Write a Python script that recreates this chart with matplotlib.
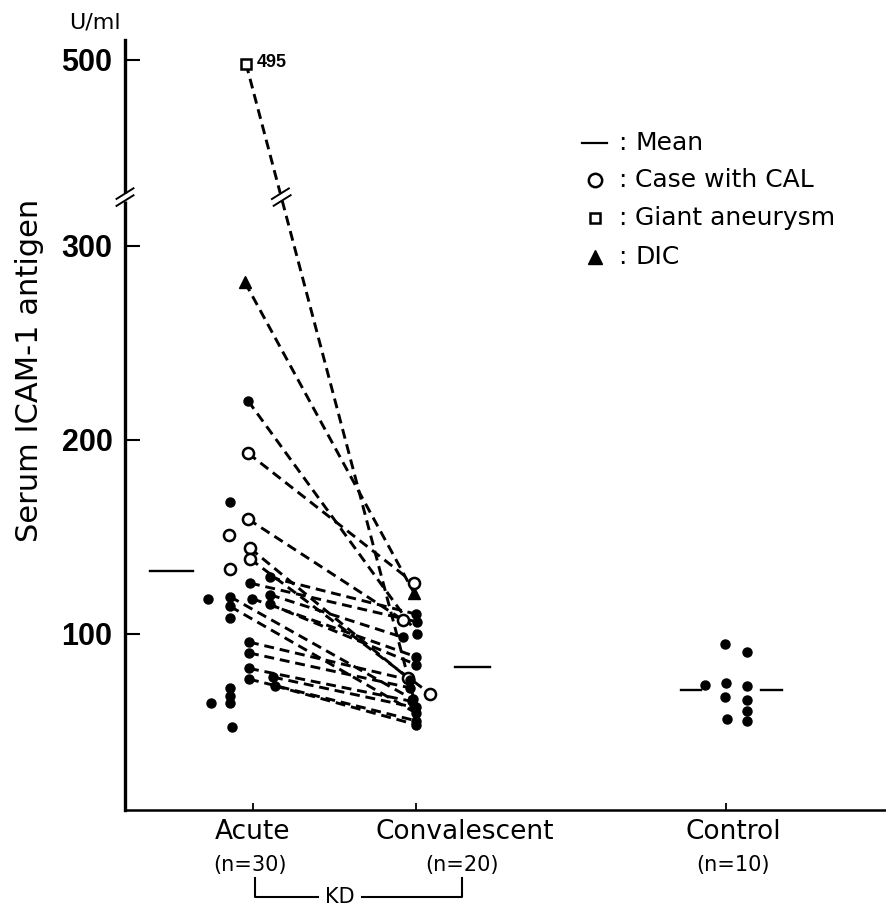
import numpy as np
import matplotlib
matplotlib.use('Agg')
import matplotlib.pyplot as plt
from matplotlib.lines import Line2D
from matplotlib.transforms import IdentityTransform

# serum ICAM-1 (U/ml)
acute_pair = [495, 281, 220, 193, 159, 144, 138.5, 129, 126, 120, 118, 115, 119, 114, 95.6, 90, 82, 77.5, 76.5, 73]
conv_pair = [62, 121, 100, 126, 107, 77, 69, 110, 106, 98, 88, 84, 66, 59, 76, 72, 65, 62, 55, 53]
acute_kind = ['giant', 'dic', 'plain', 'cal', 'cal', 'cal', 'cal', 'plain', 'plain', 'plain',
              'plain', 'plain', 'plain', 'plain', 'plain', 'plain', 'plain', 'plain', 'plain', 'plain']
conv_kind = ['plain', 'dic', 'plain', 'cal', 'cal', 'cal', 'cal', 'plain', 'plain', 'plain',
             'plain', 'plain', 'plain', 'plain', 'plain', 'plain', 'plain', 'plain', 'plain', 'plain']
acute_only = [168, 151, 133, 108, 72, 68, 64, 52, 118, 64]
acute_only_kind = ['plain', 'cal', 'cal', 'plain', 'plain', 'plain', 'plain', 'plain', 'plain', 'plain']
control_vals = [94.6, 90.5, 73.4, 74.4, 72.9, 67.2, 65.6, 60.0, 55.8, 54.8]

groups = ['Acute', 'Convalescent', 'Control']
group_n = [30, 20, 10]
yticks = [100, 200, 300, 500]
legend_items = ['Mean', 'Case with CAL', 'Giant aneurysm', 'DIC']

# horizontal scatter of the dots, in pixels
acute_pair_dx = [-7, -8, -5, -5, -5, -3, -3, 17, -3, 17, -1, 17, -23, -23, -4, -4, -4, 20, -4, 22]
conv_pair_dx = [0, -2, 1, -2, -13, -8, 14, 0, 1, -13, 0, 0, -3, 0, -6, -6, -4, -2, 0, 0]
acute_only_dx = [-23, -24, -23, -23, -23, -23, -23, -21, -45, -42]
control_dx = [-1, 21, -21, 0, 21, -1, 21, 21, 1, 21]

W, H = 886, 915
PX = 163.0          # pixels per x unit
xpos = [1.0, 2.0, 3.9]
BRK = 325.0         # axis break
K = 0.405           # compression above the break

def fwd(v):
    v = np.asarray(v, dtype=float)
    return np.where(v <= BRK, v, BRK + (v - BRK) * K)

def inv(t):
    t = np.asarray(t, dtype=float)
    return np.where(t <= BRK, t, BRK + (t - BRK) / K)

def fx(px):
    return px / W

def fy(py):
    return 1 - py / H

styles = {
    'plain': dict(marker='o', ms=6.5, mfc='black', mec='black', mew=1),
    'cal': dict(marker='o', ms=8, mfc='white', mec='black', mew=1.8),
    'giant': dict(marker='s', ms=6.5, mfc='white', mec='black', mew=1.8),
    'dic': dict(marker='^', ms=8, mfc='black', mec='black', mew=1),
}

NUMFONT = ['Liberation Sans', 'DejaVu Sans']

fig = plt.figure(figsize=(W / 100, H / 100), dpi=100)
ax = fig.add_axes([fx(125), fy(810), (W - 125) / W, 770 / H])
ax.set_yscale('function', functions=(fwd, inv))
ax.set_ylim(9, 525)
ax.set_xlim(1 - 128 / PX, 1 + (W - 253) / PX)

# paired lines acute -> convalescent
for a, c, ka, kc, da, dc in zip(acute_pair, conv_pair, acute_kind, conv_kind, acute_pair_dx, conv_pair_dx):
    x1 = xpos[0] + da / PX
    x2 = xpos[1] + dc / PX
    ax.plot([x1, x2], [a, c], color='black', lw=2.1, ls=(0, (3.4, 2.0)), zorder=2)
    ax.plot(x1, a, ls='none', zorder=3, **styles[ka])
    ax.plot(x2, c, ls='none', zorder=3, **styles[kc])

for v, k, d in zip(acute_only, acute_only_kind, acute_only_dx):
    ax.plot(xpos[0] + d / PX, v, ls='none', zorder=3, **styles[k])

for v, d in zip(control_vals, control_dx):
    ax.plot(xpos[2] + d / PX, v, ls='none', zorder=3, **styles['plain'])

# means
m_acute = np.mean(acute_pair + acute_only)
m_conv = np.mean(conv_pair)
m_ctrl = np.mean(control_vals)
ax.plot([xpos[0] - 103 / PX, xpos[0] - 60 / PX], [m_acute] * 2, color='black', lw=1.7)
ax.plot([xpos[1] + 39 / PX, xpos[1] + 74 / PX], [m_conv] * 2, color='black', lw=1.7)
ax.plot([xpos[2] - 45 / PX, xpos[2] - 25 / PX], [m_ctrl] * 2, color='black', lw=1.7)
ax.plot([xpos[2] + 35 / PX, xpos[2] + 56 / PX], [m_ctrl] * 2, color='black', lw=1.7)

ax.annotate('495', xy=(xpos[0] + acute_pair_dx[0] / PX, acute_pair[0]), xytext=(8, 1),
            textcoords='offset points', va='center', ha='left', fontsize=13,
            fontweight='bold', family=NUMFONT)

# axes styling
for s in ['top', 'right']:
    ax.spines[s].set_visible(False)
ax.spines['left'].set_linewidth(2.4)
ax.spines['bottom'].set_linewidth(1.8)
ax.set_yticks(yticks)
ax.set_yticklabels([str(t) for t in yticks])
ax.yaxis.set_minor_locator(matplotlib.ticker.NullLocator())
ax.tick_params(axis='y', direction='in', length=11, width=1.5, labelsize=22, pad=9)
for lab in ax.get_yticklabels():
    lab.set_fontweight('bold')
    lab.set_family(NUMFONT)
ax.set_xticks(xpos)
ax.set_xticklabels([])
ax.tick_params(axis='x', direction='in', length=5, width=1.3)

# break marks
def break_mark(px, py, d, gap_w):
    d = np.asarray(d, float) / np.hypot(*d)
    u = np.array([np.cos(np.radians(32)), np.sin(np.radians(32))])
    g = np.array([px, py])
    p0, p1 = g - 4 * d, g + 4 * d
    fig.add_artist(Line2D([p0[0], p1[0]], [p0[1], p1[1]], color='white', lw=gap_w,
                          transform=IdentityTransform(), zorder=6, solid_capstyle='butt'))
    for c in (g - 3.5 * d, g + 3.5 * d):
        a, b = c - 10 * u, c + 10 * u
        fig.add_artist(Line2D([a[0], b[0]], [a[1], b[1]], color='black', lw=1.4,
                              transform=IdentityTransform(), zorder=7))

bx, by = ax.transData.transform((ax.get_xlim()[0], BRK))
break_mark(bx, by, (0, 1), 5)

x1 = xpos[0] + acute_pair_dx[0] / PX
x2 = xpos[1] + conv_pair_dx[0] / PX
p1 = ax.transData.transform((x1, acute_pair[0]))
p2 = ax.transData.transform((x2, conv_pair[0]))
t = (p1[1] - by) / (p1[1] - p2[1])
cx = p1[0] + t * (p2[0] - p1[0])
break_mark(cx, by, (p2[0] - p1[0], p2[1] - p1[1]), 5)

# text around the axes
fig.text(fx(95), fy(22), 'U/ml', ha='center', va='center', fontsize=16)
fig.text(fx(30), fy(370), 'Serum ICAM-1 antigen', rotation=90, ha='center', va='center', fontsize=22)

lab_x = [253, 465, 733]
n_x = [250, 462, 733]
for g, n, lx, nx in zip(groups, group_n, lab_x, n_x):
    fig.text(fx(lx), fy(832), g, ha='center', va='center', fontsize=19)
    fig.text(fx(nx), fy(865), '(n=%d)' % n, ha='center', va='center', fontsize=15)

# KD bracket
kd = dict(color='black', lw=1.5, transform=fig.transFigure)
fig.add_artist(Line2D([fx(255), fx(255), fx(318)], [fy(878), fy(897), fy(897)], **kd))
fig.add_artist(Line2D([fx(362), fx(462), fx(462)], [fy(897), fy(897), fy(878)], **kd))
fig.text(fx(340), fy(897), 'KD', ha='center', va='center', fontsize=15)

# legend
leg_y = [143, 180, 218, 257]
leg_mk = [None, 'cal', 'giant', 'dic']
for txt, ly, mk in zip(legend_items, leg_y, leg_mk):
    if mk is None:
        fig.add_artist(Line2D([fx(582), fx(607)], [fy(ly), fy(ly)], color='black', lw=1.6,
                              transform=fig.transFigure))
    else:
        st = dict(styles[mk])
        st['ms'] = st['ms'] * 1.2
        fig.add_artist(Line2D([fx(595)], [fy(ly)], ls='none', transform=fig.transFigure, **st))
    fig.text(fx(622), fy(ly), ':', ha='center', va='center', fontsize=18)
    fig.text(fx(635), fy(ly), txt, ha='left', va='center', fontsize=18)

fig.savefig('out.png', dpi=100)
